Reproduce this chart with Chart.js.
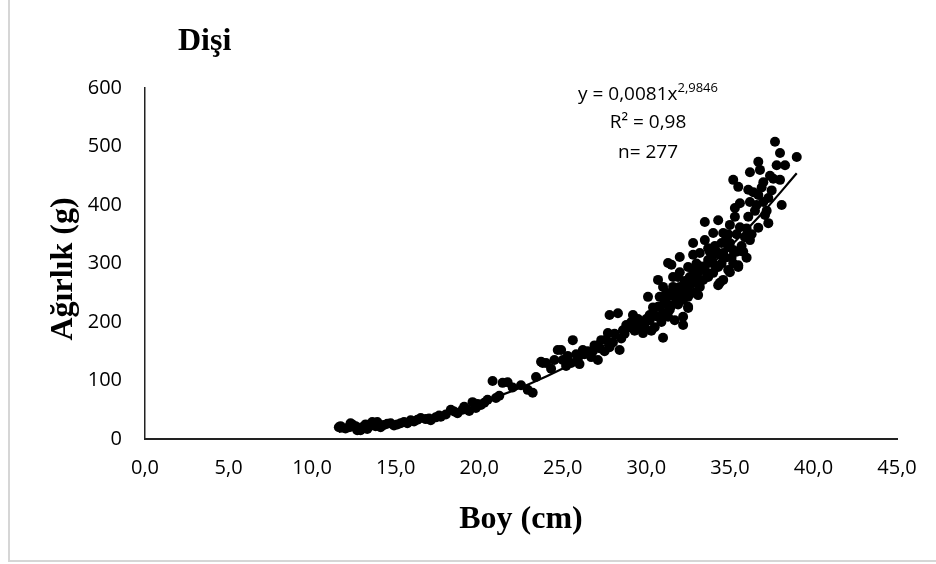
<!DOCTYPE html>
<html>
<head>
<meta charset="utf-8">
<script src="https://cdn.jsdelivr.net/npm/chart.js@4"></script>
<style>
html, body { margin: 0; padding: 0; background: #fff; }
#wrap { width: 936px; height: 564px; }
</style>
</head>
<body>
<div id="wrap"><canvas id="grafik" width="936" height="564"></canvas></div>
<script>
// Boy (cm) - Ağırlık (g), dişi bireyler
var boy = [
    11.6, 11.7, 12.3, 12.4, 12.7, 12.9, 13.0, 13.5, 13.6, 13.9, 13.3, 14.1, 14.7, 15.3, 15.9, 16.5, 17.1, 17.7,
    18.3, 18.7, 19.6, 19.8, 20.1, 20.5, 20.8, 21.0, 21.4, 21.7, 22.5, 22.9, 23.2, 23.4, 23.7, 24.0, 24.7,
    12.0, 12.6, 13.2, 13.8, 14.3, 14.9, 15.5, 16.1, 16.8, 17.4, 18.0, 19.1, 19.4, 20.3, 21.2, 22.0,
    23.8, 24.9, 25.0, 25.6, 25.5, 26.2, 26.7, 27.1, 27.3, 27.7, 27.8, 28.3, 27.8, 28.4, 28.6, 29.0, 29.2,
    29.6, 29.8, 30.2, 30.1, 30.7, 30.5, 31.0, 30.8, 31.3, 31.3, 31.6, 31.9, 31.7, 32.0, 32.2, 32.2, 32.5,
    32.5, 32.8, 32.8, 32.9, 33.2, 33.4, 33.7, 34.0, 34.4, 34.6, 34.9, 35.2, 35.5,
    37.7, 38.0, 39.0, 36.7, 37.8, 38.3, 36.2, 36.8, 38.0, 37.0, 35.2, 35.5, 36.1, 36.4, 36.7, 37.3, 36.2,
    35.6, 35.3, 38.1, 36.1, 37.1, 37.3, 36.7, 33.5, 34.3, 35.0, 35.6, 34.0, 34.6, 36.2, 33.7, 32.8, 34.4,
    34.9, 31.5, 32.5, 33.7, 34.3, 35.5, 35.0, 31.6, 32.6, 33.7, 34.6, 31.0, 32.0, 33.2, 34.3, 30.8, 31.6,
    32.5, 33.1, 30.7, 31.4, 32.5, 30.2, 32.2, 35.3,
    24.3, 25.2, 25.8, 26.0, 26.5, 26.9, 27.5, 28.0, 28.5, 28.8, 29.3, 29.5, 29.9, 30.3, 30.4, 30.9, 31.1,
    31.2, 31.5, 31.8, 32.0, 32.3, 32.7, 33.0, 33.0, 33.4, 33.5, 33.9, 34.1, 34.5, 34.8, 35.0, 35.1, 35.4,
    35.7, 35.9, 36.0, 36.5, 37.0, 37.5, 37.6,
    12.2, 12.8, 13.4, 14.0, 14.5, 15.1, 15.7, 16.3, 17.0, 17.6, 18.5, 19.0, 19.9,
    24.5, 25.3, 25.9, 26.3, 26.8, 27.2, 27.6, 28.1, 28.7, 29.1, 29.4, 29.7, 30.0, 30.4, 30.6, 31.0, 31.2,
    31.5, 31.8, 31.9, 32.1, 32.4, 32.6, 32.9, 33.1, 33.3, 33.6, 33.8, 34.0, 34.2, 34.5, 34.7, 34.9, 35.2,
    35.4, 35.8, 36.0, 36.3, 36.6, 36.9, 37.2, 37.4
];
var agirlik = [
    20, 22, 27, 25, 15, 15, 20, 24, 29, 29, 17, 20, 27, 27, 32, 36, 32, 38,
    50, 44, 63, 53, 58, 67, 99, 70, 96, 97, 92, 84, 79, 106, 132, 130, 152,
    18, 22, 25, 22, 24, 23, 29, 30, 34, 37, 42, 55, 48, 62, 74, 88,
    130, 152, 135, 169, 130, 152, 140, 135, 169, 181, 212, 215, 157, 152, 186, 191, 212,
    198, 181, 203, 243, 272, 191, 173, 226, 209, 301, 260, 277, 203, 311, 238, 195, 226,
    255, 335, 289, 250, 318, 272, 306, 284, 267, 318, 289, 323, 294,
    508, 489, 482, 474, 468, 468, 456, 460, 443, 439, 443, 431, 426, 422, 417, 412, 405,
    403, 395, 400, 380, 383, 369, 361, 371, 374, 366, 362, 352, 352, 340, 326, 315, 315,
    328, 298, 294, 301, 294, 297, 285, 277, 277, 277, 272, 260, 260, 260, 263, 243, 246,
    243, 246, 226, 221, 224, 212, 209, 380,
    120, 125, 145, 128, 150, 160, 150, 165, 172, 195, 185, 205, 192, 185, 215, 200, 235,
    250, 228, 240, 285, 270, 265, 280, 300, 290, 340, 310, 330, 300, 345, 335, 310, 350,
    330, 345, 360, 390, 405, 425, 445,
    20, 18, 21, 25, 26, 25, 27, 33, 35, 40, 47, 50, 60,
    135, 142, 138, 145, 150, 155, 170, 180, 180, 200, 195, 190, 205, 225, 210, 215, 230,
    245, 255, 230, 250, 260, 248, 270, 285, 295, 285, 320, 300, 320, 335, 310, 350, 300,
    320, 320, 310, 350, 400, 430, 390, 450
];

// Üs eğilimi: y = 0,0081x^2,9846
var trendA = 0.0081;
var trendB = 2.9846;
var trendBoy = [11.6, 13, 15, 17, 19, 21, 23, 25, 27, 29, 31, 33, 35, 37, 39.0];

var noktalar = boy.map(function (b, i) { return { x: b, y: agirlik[i] }; });
var trend = trendBoy.map(function (b) { return { x: b, y: trendA * Math.pow(b, trendB) }; });

function virgul(v) { return v.toFixed(1).replace('.', ','); }

var yaziEklentisi = {
    id: 'yazilar',
    beforeDraw: function (chart) {
        var ctx = chart.ctx;
        ctx.save();
        ctx.fillStyle = '#fff';
        ctx.fillRect(0, 0, chart.width, chart.height);
        // dış çerçeve (sol ve alt)
        ctx.strokeStyle = '#d6d6d6';
        ctx.lineWidth = 2;
        ctx.beginPath();
        ctx.moveTo(9, 0);
        ctx.lineTo(9, 561);
        ctx.lineTo(chart.width, 561);
        ctx.stroke();
        ctx.restore();
    },
    afterDraw: function (chart) {
        var ctx = chart.ctx, a = chart.chartArea;
        ctx.save();
        ctx.fillStyle = '#000';
        ctx.font = 'bold 32px "Liberation Serif"';
        ctx.textBaseline = 'alphabetic';
        ctx.textAlign = 'left';
        ctx.fillText('Dişi', 178, 50);
        ctx.textAlign = 'center';
        ctx.fillText('Boy (cm)', (a.left + a.right) / 2, 528);
        ctx.save();
        ctx.translate(72, 269);
        ctx.rotate(-Math.PI / 2);
        ctx.fillText('Ağırlık (g)', 0, 0);
        ctx.restore();

        // denklem kutusu
        var cx = 648;
        ctx.font = '19px "Open Sans"';
        var ana = 'y = 0,0081x';
        var us = '2,9846';
        var w1 = ctx.measureText(ana).width;
        ctx.font = '13px "Open Sans"';
        var w2 = ctx.measureText(us).width;
        var x0 = cx - (w1 + w2) / 2;
        ctx.textAlign = 'left';
        ctx.font = '19px "Open Sans"';
        ctx.fillText(ana, x0, 100);
        ctx.font = '13px "Open Sans"';
        ctx.fillText(us, x0 + w1, 92);
        ctx.font = '19px "Open Sans"';
        ctx.textAlign = 'center';
        ctx.fillText('R² = 0,98', cx, 128);
        ctx.fillText('n= 277', cx, 158);
        ctx.restore();
    }
};

var ctx = document.getElementById('grafik').getContext('2d');
var grafik = new Chart(ctx, {
    type: 'scatter',
    data: {
        datasets: [{
            label: 'Eğilim',
            data: trend,
            showLine: true,
            borderColor: '#000',
            borderWidth: 2.2,
            pointRadius: 0,
            cubicInterpolationMode: 'monotone',
            order: 0
        }, {
            label: 'Dişi',
            data: noktalar,
            backgroundColor: '#000',
            borderColor: '#000',
            pointRadius: 5,
            borderWidth: 0,
            order: 1
        }]
    },
    options: {
        responsive: false,
        animation: false,
        layout: {
            padding: { left: 0, right: 39, top: 88, bottom: 0 }
        },
        plugins: {
            legend: { display: false },
            tooltip: { enabled: false }
        },
        scales: {
            x: {
                type: 'linear',
                min: 0,
                max: 45,
                grid: { display: false, drawTicks: false },
                border: { display: true, color: '#222', width: 2 },
                ticks: {
                    stepSize: 5,
                    padding: 17,
                    color: '#000',
                    font: { family: 'Open Sans', size: 20 },
                    callback: function (v) { return virgul(v); }
                },
                afterFit: function (s) { s.height = 125; }
            },
            y: {
                min: 0,
                max: 600,
                grid: { display: false, drawTicks: false },
                border: { display: true, color: '#222', width: 1.5 },
                ticks: {
                    stepSize: 100,
                    padding: 23,
                    color: '#000',
                    font: { family: 'Open Sans', size: 20 }
                },
                afterFit: function (s) { s.width = 145; }
            }
        }
    },
    plugins: [yaziEklentisi]
});
</script>
</body>
</html>
